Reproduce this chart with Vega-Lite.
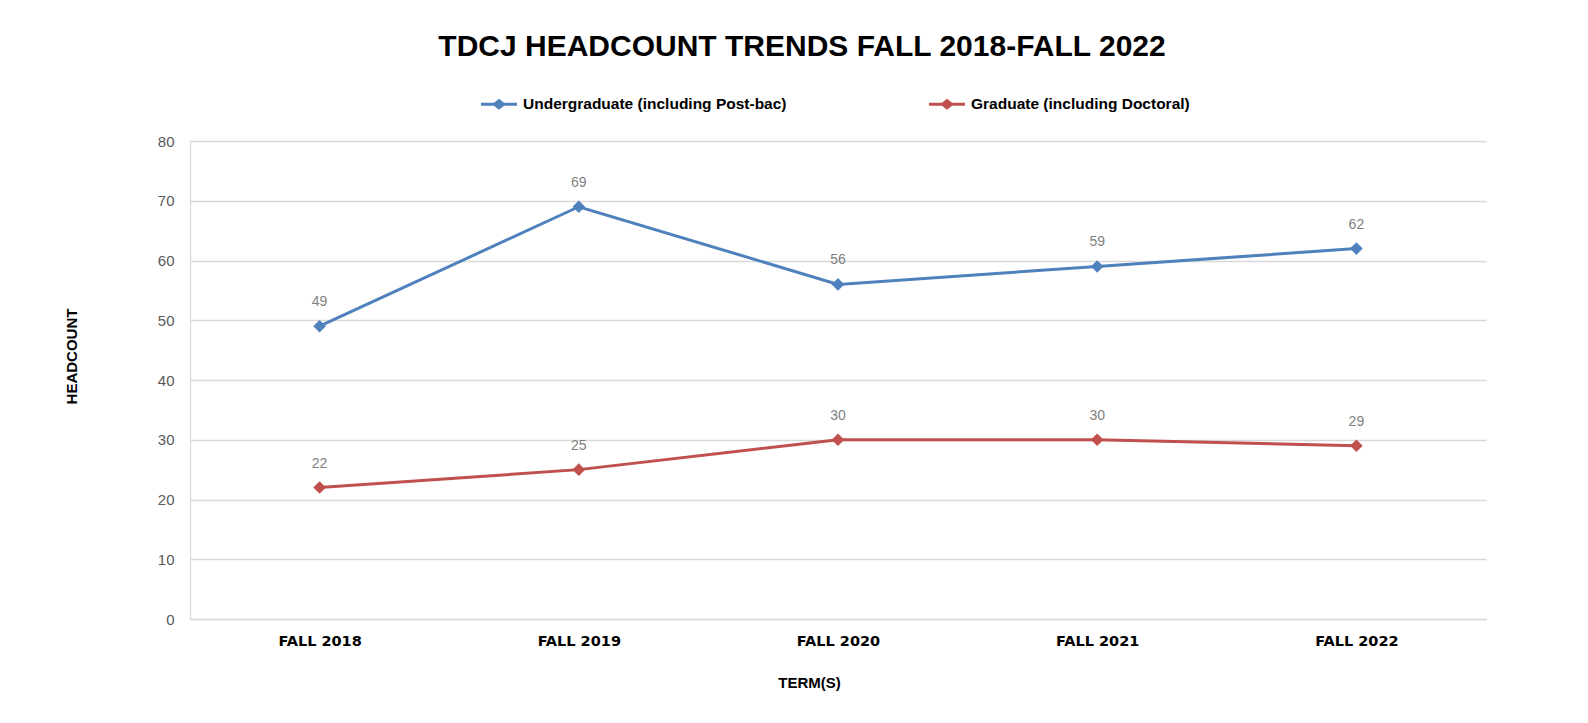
{
  "$schema": "https://vega.github.io/schema/vega-lite/v6.json",
  "width": 1296,
  "height": 478,
  "autosize": {"type": "none"},
  "padding": {"left": 190, "top": 141, "right": 102, "bottom": 104},
  "background": "white",
  "config": {"view": {"stroke": null}},
  "title": {
    "text": "TDCJ HEADCOUNT TRENDS FALL 2018-FALL 2022",
    "font": "Liberation Sans",
    "fontSize": 30,
    "fontWeight": "bold",
    "color": "#000000",
    "anchor": "middle",
    "frame": "group",
    "dx": -36,
    "offset": 24
  },
  "data": {
    "values": [
      {"term": "FALL 2018", "level": "Undergraduate (including Post-bac)", "headcount": 49},
      {"term": "FALL 2019", "level": "Undergraduate (including Post-bac)", "headcount": 69},
      {"term": "FALL 2020", "level": "Undergraduate (including Post-bac)", "headcount": 56},
      {"term": "FALL 2021", "level": "Undergraduate (including Post-bac)", "headcount": 59},
      {"term": "FALL 2022", "level": "Undergraduate (including Post-bac)", "headcount": 62},
      {"term": "FALL 2018", "level": "Graduate (including Doctoral)", "headcount": 22},
      {"term": "FALL 2019", "level": "Graduate (including Doctoral)", "headcount": 25},
      {"term": "FALL 2020", "level": "Graduate (including Doctoral)", "headcount": 30},
      {"term": "FALL 2021", "level": "Graduate (including Doctoral)", "headcount": 30},
      {"term": "FALL 2022", "level": "Graduate (including Doctoral)", "headcount": 29}
    ]
  },
  "encoding": {
    "x": {
      "field": "term",
      "type": "ordinal",
      "sort": null,
      "scale": {"type": "point", "padding": 0.5},
      "axis": {
        "title": "TERM(S)",
        "labelAngle": 0,
        "grid": false,
        "domain": true,
        "domainColor": "#d9d9d9",
        "domainWidth": 1.3,
        "ticks": false,
        "tickSize": 0,
        "labelPadding": 15,
        "labelFont": "DejaVu Sans",
        "labelFontSize": 14.5,
        "labelFontWeight": "bold",
        "labelColor": "#000000",
        "titleFont": "Liberation Sans",
        "titleFontSize": 15,
        "titleFontWeight": "bold",
        "titleColor": "#000000",
        "titleX": 619,
        "titleY": 63,
        "titleAlign": "center",
        "titleBaseline": "middle"
      }
    },
    "y": {
      "field": "headcount",
      "type": "quantitative",
      "scale": {"domain": [0, 80], "nice": false},
      "axis": {
        "title": "HEADCOUNT",
        "values": [0, 10, 20, 30, 40, 50, 60, 70, 80],
        "grid": true,
        "gridColor": "#d9d9d9",
        "gridWidth": 1.3,
        "domain": true,
        "domainColor": "#d9d9d9",
        "domainWidth": 1.3,
        "ticks": false,
        "tickSize": 0,
        "labelPadding": 16,
        "labelFont": "Liberation Sans",
        "labelFontSize": 15,
        "labelColor": "#595959",
        "titleFont": "Liberation Sans",
        "titleFontSize": 15,
        "titleFontWeight": "bold",
        "titleColor": "#000000",
        "titleAngle": 270,
        "titleX": -119,
        "titleY": 215,
        "titleAlign": "center",
        "titleBaseline": "middle"
      }
    },
    "color": {
      "field": "level",
      "type": "nominal",
      "scale": {
        "domain": ["Undergraduate (including Post-bac)", "Graduate (including Doctoral)"],
        "range": ["#4F81BD", "#C0504D"]
      },
      "legend": {
        "orient": "none",
        "legendX": 291,
        "legendY": -55,
        "direction": "horizontal",
        "title": null,
        "padding": 0,
        "symbolType": "M-1,-0.08L-0.28,-0.08L0,-0.3L0.28,-0.08L1,-0.08L1,0.08L0.28,0.08L0,0.3L-0.28,0.08L-1,0.08Z",
        "symbolSize": 1296,
        "labelFont": "Liberation Sans",
        "labelFontSize": 15.5,
        "labelFontWeight": "bold",
        "labelColor": "#000000",
        "labelLimit": 0,
        "labelOffset": 6,
        "columnPadding": 142,
        "encode": {
          "symbols": {
            "update": {
              "fill": {"scale": "color", "field": "value"},
              "stroke": {"value": "transparent"},
              "strokeWidth": {"value": 0},
              "opacity": {"value": 1}
            }
          }
        }
      }
    }
  },
  "layer": [
    {"mark": {"type": "line", "strokeWidth": 3}},
    {"mark": {"type": "point", "shape": "diamond", "filled": true, "size": 160, "opacity": 1}},
    {
      "mark": {
        "type": "text",
        "dy": -20,
        "baseline": "alphabetic",
        "fontSize": 14,
        "font": "Liberation Sans",
        "color": "#7f7f7f"
      },
      "encoding": {
        "text": {"field": "headcount", "type": "quantitative"},
        "color": {"value": "#7f7f7f"}
      }
    }
  ]
}
